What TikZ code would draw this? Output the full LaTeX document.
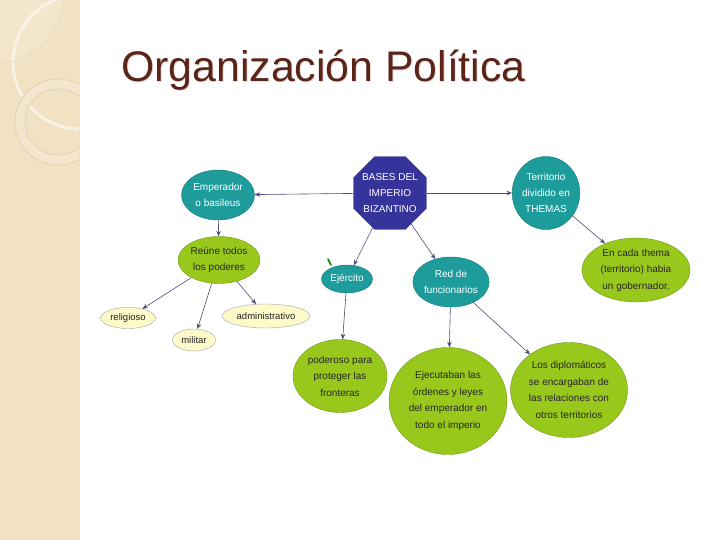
\documentclass[tikz,border=0pt]{standalone}
\usepackage{fontspec}
\setmainfont{Liberation Sans}
\usetikzlibrary{shapes.geometric,arrows.meta}
\definecolor{bandfill}{HTML}{F1E2C4}
\definecolor{bandlight}{HTML}{F3E6CC}
\definecolor{bandline}{HTML}{D9C49C}
\definecolor{titlebrown}{HTML}{5A2418}
\definecolor{tealfill}{HTML}{1E9C9C}
\definecolor{tealline}{HTML}{137878}
\definecolor{limefill}{HTML}{99C81C}
\definecolor{limeline}{HTML}{6E9812}
\definecolor{paleyellow}{HTML}{FDF9C8}
\definecolor{navyfill}{HTML}{36349A}
\definecolor{arrowcol}{HTML}{4C4C7E}
\begin{document}
\begin{tikzpicture}[x=1pt,y=-1pt,
        teal/.style={ellipse,draw=tealline,fill=tealfill,text=white,
            inner sep=0pt,align=center,font=\fontsize{10}{16}\selectfont},
        lime/.style={ellipse,draw=limeline,fill=limefill,text=black!85,
            inner sep=0pt,align=center,font=\fontsize{10}{16.5}\selectfont},
        pale/.style={ellipse,draw=gray!70,fill=paleyellow,text=black!85,
            inner sep=0pt,font=\fontsize{9.5}{11}\selectfont},
        link/.style={-{Stealth[length=5.5pt,width=4.5pt]},draw=arrowcol,line width=0.6pt}]
\useasboundingbox (0,0) rectangle (720,540);
\fill[white] (0,0) rectangle (720,540);

% left band
\fill[bandfill] (0,0) rectangle (79,540);
\begin{scope}
\clip (0,0) rectangle (79,540);
\fill[bandlight] (-4,-4) circle (67);
\draw[white,opacity=0.55,line width=3pt] (80,62) circle (67);
\fill[bandlight,even odd rule] (58,122) circle (43) (58,122) circle (33);
\draw[bandline,line width=0.4pt] (58,122) circle (43);
\draw[bandline,line width=0.4pt] (58,122) circle (33);
\draw[bandline!70,line width=0.4pt] (-4,-4) circle (67);
\end{scope}
\draw[bandline!50,line width=0.4pt] (79,0) -- (79,540);

% title
\node[anchor=base west,inner sep=0pt,text=titlebrown!15,font=\fontsize{42.8}{42.8}\selectfont]
    at (122,83) (shadow) {Organización Política};
\node[anchor=base west,inner sep=0pt,text=titlebrown,font=\fontsize{42.8}{42.8}\selectfont]
    at (121,82) (title) {Organización Política};

% nodes
\node[regular polygon,regular polygon sides=8,minimum size=79pt,inner sep=0pt,
    draw=navyfill!80!black,fill=navyfill,
    label={[text=white,align=center,font=\fontsize{10}{16}\selectfont]center:BASES DEL\\IMPERIO\\BIZANTINO}]
    at (390,193) (bases) {};
\node[teal,minimum width=73pt,minimum height=50pt] at (218,195) (emperador)
    {Emperador\\o basileus};
\node[lime,minimum width=82pt,minimum height=47pt] at (219,260) (reune)
    {Reúne todos\\los poderes};
\node[pale,minimum width=55pt,minimum height=21pt] at (128,318) (religioso) {religioso};
\node[pale,minimum width=43pt,minimum height=22pt] at (194,340) (militar) {militar};
\node[pale,minimum width=88pt,minimum height=24pt] at (266,316) (admin) {administrativo};
\node[teal,minimum width=51pt,minimum height=28pt] at (347,279) (ejercito) {Ejército};
\node[teal,minimum width=76pt,minimum height=50pt] at (451,282) (red)
    {Red de\\funcionarios};
\node[teal,minimum width=63pt,minimum height=73pt] at (546,193) (territorio)
    {Territorio\\dividido en\\THEMAS};
\node[lime,minimum width=108pt,minimum height=64pt] at (636,270) (thema)
    {En cada thema\\(territorio) habia\\un gobernador.};
\node[lime,minimum width=94pt,minimum height=73pt] at (340,376) (poderoso)
    {poderoso para\\proteger las\\fronteras};
\node[lime,minimum width=118pt,minimum height=107pt] at (448,401) (ejecutaban)
    {Ejecutaban las\\órdenes y leyes\\del emperador en\\todo el imperio};
\node[lime,minimum width=117pt,minimum height=95pt] at (569,390) (diplomaticos)
    {Los diplomáticos\\se encargaban de\\las relaciones con\\otros territorios};

% small leaf near Ejército
\draw[green!55!black,line width=1.6pt,line cap=round] (328,259) -- (331,265);

% connectors
\draw[link] (bases) -- (emperador);
\draw[link] (bases) -- (territorio);
\draw[link] (bases) -- (ejercito);
\draw[link] (bases) -- (red);
\draw[link] (emperador) -- (reune);
\draw[link] (reune) -- (religioso);
\draw[link] (reune) -- (militar);
\draw[link] (reune) -- (admin);
\draw[link] (territorio) -- (thema);
\draw[link] (ejercito) -- (poderoso);
\draw[link] (red) -- (ejecutaban);
\draw[link] (red) -- (diplomaticos);
\end{tikzpicture}
\end{document}
